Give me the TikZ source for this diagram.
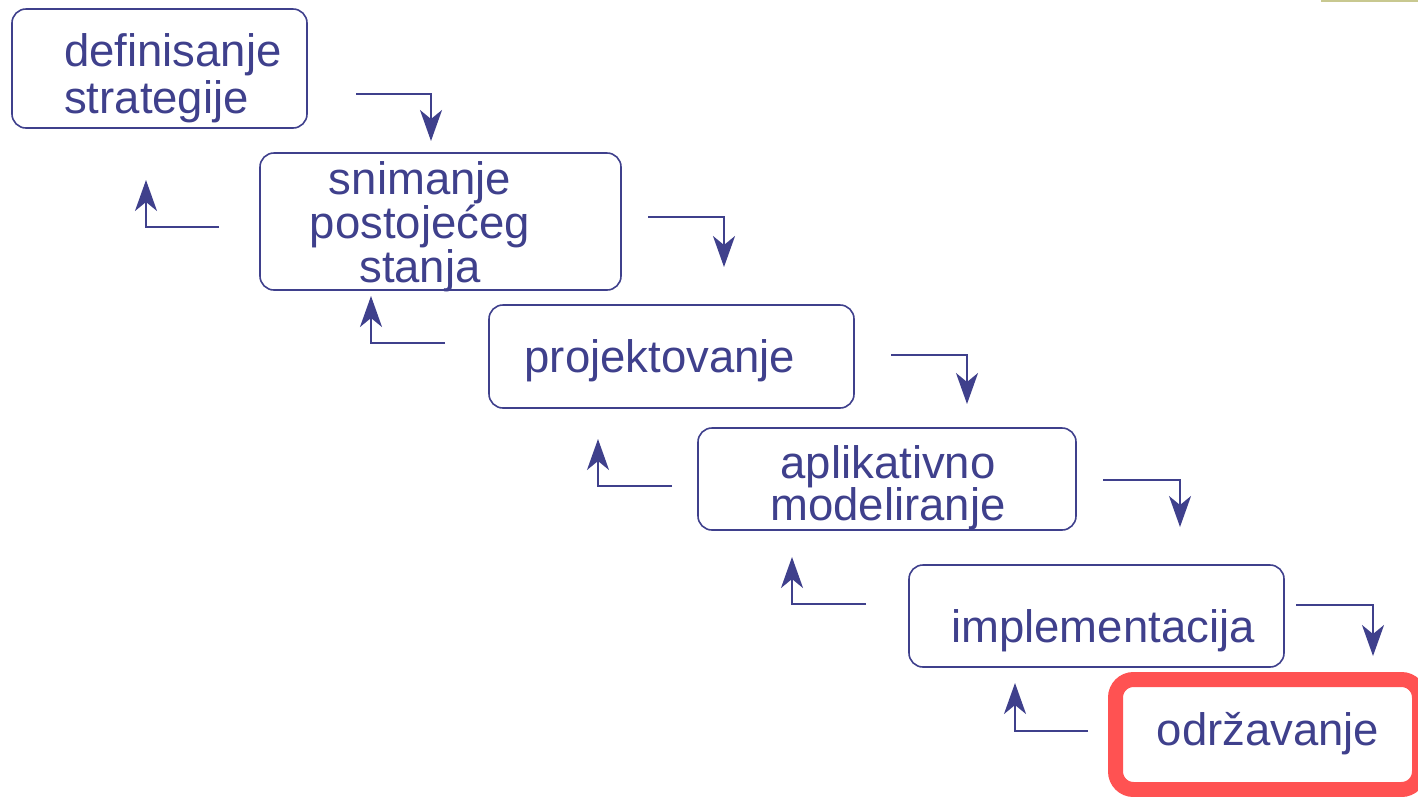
\documentclass[tikz,border=0pt]{standalone}
\usepackage{fontspec}
\setmainfont{Liberation Sans}
\usetikzlibrary{arrows.meta}
\definecolor{ink}{RGB}{63,64,140}
\definecolor{hot}{RGB}{255,82,82}
\definecolor{olive}{RGB}{200,200,144}
\newcommand{\cstackx}[2]{\vtop{\baselineskip=#1\lineskiplimit=-20pt\halign{\hfil##\hfil\cr#2\crcr}}}
\newcommand{\lstackx}[2]{\vtop{\baselineskip=#1\lineskiplimit=-20pt\halign{##\hfil\cr#2\crcr}}}
\tikzset{
  stagebox/.style={draw=ink, line width=1.6pt, rounded corners=14pt, rectangle, inner sep=0pt},
  hotbox/.style={draw=hot, line width=15pt, rounded corners=18pt, rectangle, inner sep=0pt},
  label text/.style={text=ink, inner sep=0pt, font=\fontsize{45.5}{47}\selectfont},
  flow/.style={draw=ink, line width=2pt, -{Stealth[length=31pt,width=22pt,inset=9pt]}}
}
\begin{document}
\begin{tikzpicture}[x=1pt,y=-1pt]
\useasboundingbox (0,0) rectangle (1418,796);
\draw[olive, line width=2pt] (1321,1) -- (1418,1);
% boxes
\node[stagebox, minimum width=295pt, minimum height=119pt] (b1) at (159.5,68.5) {};
\node[stagebox, minimum width=361pt, minimum height=137pt] (b2) at (440.5,221.5) {};
\node[stagebox, minimum width=365pt, minimum height=103pt] (b3) at (671.5,356.5) {};
\node[stagebox, minimum width=378pt, minimum height=102pt] (b4) at (887,479) {};
\node[stagebox, minimum width=375pt, minimum height=102pt] (b5) at (1096.5,616) {};
\node[hotbox, minimum width=304pt, minimum height=110pt] (b6) at (1267.5,734.5) {};
% texts
\node[label text, anchor=base west] (t1) at (64,66) {\lstackx{47pt}{definisanje\cr strategije}};
\node[label text, anchor=base] (t2) at (420,194) {\cstackx{44pt}{snimanje\cr postojećeg\cr stanja}};
\node[label text, anchor=base] (t3) at (660,372) {projektovanje};
\node[label text, anchor=base] (t4) at (888,478) {\cstackx{42pt}{aplikativno\cr modeliranje}};
\node[label text, anchor=base] (t5) at (1103,642) {implementacija};
\node[label text, anchor=base] (t6) at (1268,745) {održavanje};
% forward arrow points
\coordinate (f1s) at (356,94);  \coordinate (f1e) at (431,141);
\coordinate (f2s) at (648,217); \coordinate (f2e) at (724,267);
\coordinate (f3s) at (891,355); \coordinate (f3e) at (967,404);
\coordinate (f4s) at (1103,480);\coordinate (f4e) at (1180,527);
\coordinate (f5s) at (1296,605);\coordinate (f5e) at (1373,656);
% backward arrow points
\coordinate (r1s) at (219,227); \coordinate (r1e) at (146,180);
\coordinate (r2s) at (445,343); \coordinate (r2e) at (371,296);
\coordinate (r3s) at (672,486); \coordinate (r3e) at (598,439);
\coordinate (r4s) at (866,604); \coordinate (r4e) at (792,557);
\coordinate (r5s) at (1088,731);\coordinate (r5e) at (1015,683);
\foreach \i in {1,...,5}{
  \draw[flow] (f\i s) -| (f\i e);
  \draw[flow] (r\i s) -| (r\i e);
}
\end{tikzpicture}
\end{document}
